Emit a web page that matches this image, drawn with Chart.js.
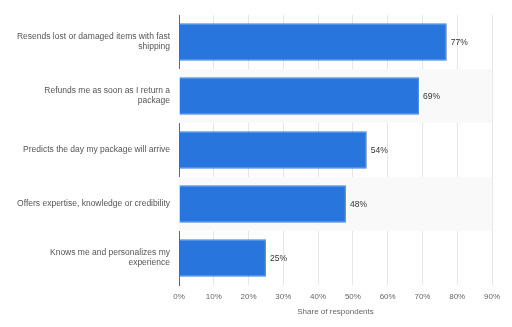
<!DOCTYPE html>
<html>
<head>
    <title>Share of respondents</title>
    <script src="https://cdn.jsdelivr.net/npm/chart.js"></script>
    <style>
        html, body { margin: 0; padding: 0; background: #ffffff; }
        #wrap { width: 512px; height: 327px; position: relative; }
    </style>
</head>
<body>
    <div id="wrap"><canvas id="myChart"></canvas></div>

    <script>
        // Datos
        const categories = [
            ['Resends lost or damaged items with fast', 'shipping'],
            ['Refunds me as soon as I return a', 'package'],
            'Predicts the day my package will arrive',
            'Offers expertise, knowledge or credibility',
            ['Knows me and personalizes my', 'experience']
        ];
        const values = [77, 69, 54, 48, 25];
        const xTicks = [0, 10, 20, 30, 40, 50, 60, 70, 80, 90];

        const fontFamily = '"Liberation Sans", Arial, sans-serif';

        // bandas grises alternadas detras de las barras
        const bandPlugin = {
            id: 'bands',
            beforeDatasetsDraw(chart) {
                const ctx = chart.ctx;
                const area = chart.chartArea;
                const y = chart.scales.y;
                const step = (area.bottom - area.top) / categories.length;
                ctx.save();
                ctx.fillStyle = '#f9f9f9';
                for (let i = 1; i < categories.length; i += 2) {
                    const c = y.getPixelForValue(i);
                    ctx.fillRect(area.left, c - step / 2, area.right - area.left, step);
                }
                ctx.restore();
            }
        };

        // etiquetas de valor al final de cada barra
        const valueLabels = {
            id: 'valueLabels',
            afterDatasetsDraw(chart) {
                const ctx = chart.ctx;
                const meta = chart.getDatasetMeta(0);
                ctx.save();
                ctx.font = '8.5px ' + fontFamily;
                ctx.fillStyle = '#333333';
                ctx.textAlign = 'left';
                ctx.textBaseline = 'middle';
                meta.data.forEach((bar, i) => {
                    ctx.fillText(values[i] + '%', bar.x + 4, bar.y + 1);
                });
                ctx.restore();
            }
        };

        const ctx = document.getElementById('myChart').getContext('2d');
        const myChart = new Chart(ctx, {
            type: 'bar',
            data: {
                labels: categories,
                datasets: [{
                    data: values,
                    backgroundColor: '#2876dd',
                    borderColor: '#3d86e6',
                    borderWidth: 1,
                    categoryPercentage: 0.69,
                    barPercentage: 1
                }]
            },
            options: {
                indexAxis: 'y',
                responsive: true,
                maintainAspectRatio: false,
                animation: false,
                layout: { padding: { top: 15, right: 20, left: 0, bottom: 0 } },
                plugins: {
                    legend: { display: false },
                    tooltip: { enabled: false }
                },
                scales: {
                    x: {
                        min: 0,
                        max: 90,
                        afterBuildTicks(scale) {
                            scale.ticks = xTicks.map(v => ({ value: v }));
                        },
                        afterFit(scale) { scale.height = 42; },
                        grid: { color: '#e6e6e6', drawTicks: false },
                        border: { display: false },
                        ticks: {
                            padding: 7,
                            color: '#666666',
                            font: { size: 8, family: fontFamily },
                            callback: v => v + '%'
                        },
                        title: {
                            display: true,
                            text: 'Share of respondents',
                            color: '#666666',
                            font: { size: 8, family: fontFamily },
                            padding: { top: 4, bottom: 10 }
                        }
                    },
                    y: {
                        afterFit(scale) {
                            scale.width = 179;
                            scale.paddingTop = 0;
                            scale.paddingBottom = 0;
                        },
                        grid: { display: false, drawTicks: false },
                        border: { display: true, color: '#666666', width: 1 },
                        ticks: {
                            padding: 9,
                            color: '#555555',
                            font: { size: 8.5, family: fontFamily, lineHeight: 1.2 }
                        }
                    }
                }
            },
            plugins: [bandPlugin, valueLabels]
        });
    </script>
</body>
</html>
